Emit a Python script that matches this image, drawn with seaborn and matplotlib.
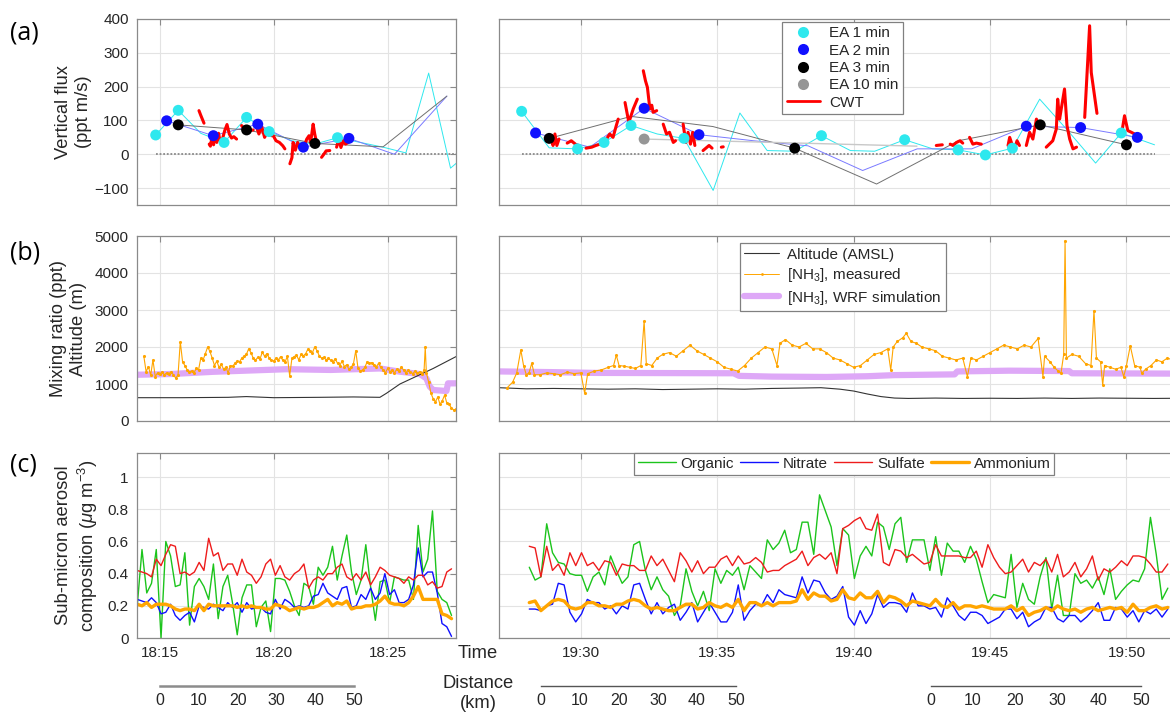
import numpy as np
import matplotlib.pyplot as plt
from matplotlib.lines import Line2D
import seaborn as sns

# times are minutes past 18:00 (left panels) and 19:00 (right panels)

# ---------------- (a) vertical flux ----------------
ea1_line_l = [(14.82, 57), (15.81, 130), (16.8, 62), (17.82, 35), (18.81, 109), (19.8, 67),
              (20.8, 40), (21.8, 30), (22.8, 49), (23.8, 35), (24.8, 21), (25.8, 4),
              (26.8, 240), (27.76, -41), (28.3, -10)]
ea1_pts_l = [(14.82, 57), (15.81, 130), (17.82, 35), (18.81, 109), (19.8, 67), (22.8, 49)]
ea2_line_l = [(15.3, 99), (17.35, 55), (19.3, 89), (21.3, 21), (23.3, 47), (25.3, 0), (27.6, 172)]
ea2_pts_l = [(15.3, 99), (17.35, 55), (19.3, 89), (21.3, 21), (23.3, 47)]
ea3_line_l = [(15.81, 87), (18.81, 72), (21.81, 32), (24.8, 22), (27.6, 172)]
ea3_pts_l = [(15.81, 87), (18.81, 72), (21.81, 32)]
zero_l = [(14.82, 0), (28.3, 0)]
cwt_l = [
    [(16.72, 129), (16.8, 115), (16.94, 92)],
    [(17.17, 30), (17.22, 24), (17.3, 55), (17.36, 28), (17.42, 60), (17.5, 35), (17.58, 62),
     (17.64, 40), (17.75, 45), (17.85, 70), (17.95, 88), (18.05, 60), (18.15, 48), (18.25, 52), (18.37, 45)],
    [(18.59, 85), (18.7, 75), (18.8, 80), (18.95, 70), (19.1, 72)],
    [(19.25, 80), (19.35, 60), (19.47, 82), (19.6, 50), (19.75, 70), (19.9, 55), (19.98, 55),
     (20.1, 40), (20.25, 35), (20.4, 25), (20.49, 16)],
    [(20.71, -28), (20.8, -10), (20.85, 35), (20.95, 12), (21.05, 35), (21.15, 21)],
    [(21.37, 30), (21.45, 45), (21.55, 55), (21.62, 35), (21.73, 89), (21.8, 60), (21.88, 35)],
    [(22.1, -9), (22.2, 0), (22.3, 10), (22.46, 11)],
    [(22.76, 21), (22.85, 45), (22.95, 20), (23.05, 40), (23.15, 30), (23.27, 35)],
]

ea1_line_r = [(27.83, 127), (28.84, 19), (29.88, 16), (30.85, 35), (31.84, 85), (32.8, 60), (33.78, 47),
              (34.85, -107), (35.83, 122), (36.83, 11), (37.84, 9), (38.82, 55), (39.88, 11), (40.77, 9),
              (41.87, 43), (42.9, 16), (43.83, 13), (44.83, -2), (45.82, 18), (46.82, 163), (47.85, 70),
              (48.87, -26), (49.81, 63), (51.03, 28)]
ea1_pts_r = [(27.83, 127), (29.88, 16), (30.85, 35), (31.84, 85), (33.78, 47), (38.82, 55), (41.87, 43),
             (43.83, 13), (44.83, -2), (45.82, 18), (49.81, 63)]
ea2_line_r = [(28.34, 63), (30.33, 21), (32.32, 136), (34.33, 58), (36.33, 40), (38.33, 25), (40.33, -48),
              (42.33, 16), (44.33, 16), (46.33, 83), (48.32, 79), (50.4, 50)]
ea2_pts_r = [(28.34, 63), (32.32, 136), (34.33, 58), (46.33, 83), (48.32, 79), (50.4, 50)]
ea3_line_r = [(28.84, 47), (31.84, 112), (34.84, 82), (37.84, 18), (40.84, -88), (43.84, 40), (46.84, 87), (50.0, 28)]
ea3_pts_r = [(28.84, 47), (37.84, 18), (46.84, 87), (50.0, 28)]
ea10_line_r = [(32.32, 45), (42.32, 24)]
ea10_pts_r = [(32.32, 45)]
zero_r = [(27.83, 0), (51.03, 0)]
cwt_r = [
    [(28.93, 55), (28.98, 26), (29.05, 60), (29.12, 26), (29.2, 45)],
    [(29.5, 33), (29.65, 40), (29.8, 30), (29.97, 21)],
    [(30.19, 18), (30.4, 21), (30.55, 26), (30.7, 30)],
    [(30.94, 45), (31.06, 60), (31.18, 50), (31.3, 85), (31.37, 104)],
    [(31.62, 153), (31.76, 94), (31.92, 134), (32.07, 163)],
    [(32.29, 247), (32.37, 217), (32.44, 198), (32.53, 134), (32.6, 145), (32.65, 124), (32.78, 129)],
    [(33.02, 89), (33.14, 60), (33.25, 65), (33.39, 35), (33.47, 40)],
    [(33.75, 89), (33.85, 35), (33.93, 65), (34.02, 30), (34.1, 65), (34.18, 26)],
    [(34.48, 11), (34.7, 26), (34.81, 18)],
    [(35.15, 21), (35.22, 22)],
    [(43.03, 26), (43.25, 28)],
    [(43.54, 30), (43.64, 26), (43.77, 35), (43.9, 40), (44.0, 33)],
    [(44.25, 50), (44.37, 30), (44.5, 33), (44.68, 30)],
    [(45.66, 26), (45.72, 50), (45.82, 26), (45.9, 16), (45.99, 40), (46.08, 26)],
    [(46.33, 26), (46.45, 65), (46.57, 45), (46.7, 104), (46.82, 80)],
    [(47.06, 21), (47.3, 40), (47.43, 75), (47.48, 163), (47.55, 104), (47.61, 134), (47.73, 193),
     (47.82, 85), (47.92, 45), (48.04, 16), (48.17, 21)],
    [(48.47, 109), (48.65, 380), (48.71, 242), (48.92, 121)],
    [(49.81, 55), (49.93, 114), (50.05, 70), (50.18, 65), (50.3, 60)],
]

# ---------------- (b) NH3 and altitude ----------------
alt_l = [(14.0, 630), (16.0, 630), (18.0, 640), (18.8, 660), (20.0, 630), (22.0, 640), (23.5, 650),
         (24.66, 640), (24.95, 750), (25.54, 1000), (27.0, 1420), (28.0, 1740)]
alt_r = [(27.0, 900), (28, 870), (29, 880), (30, 870), (31, 860), (32, 870), (33, 850), (34, 860), (35, 870),
         (36, 860), (37, 880), (38, 890), (38.8, 900), (39.5, 860), (40.0, 810), (40.5, 730), (41.0, 660),
         (41.5, 620), (42, 610), (43, 620), (44, 610), (45, 615), (46, 610), (47, 620), (48, 610), (49, 620),
         (50, 615), (51, 610), (52, 615)]
wrf_l = [(14.0, 1250), (15.5, 1270), (17.35, 1330), (20.57, 1400), (22.5, 1380), (24.66, 1420), (25.54, 1333),
         (26.41, 1270), (26.7, 1153), (26.85, 928), (27.0, 838), (27.58, 811), (27.65, 1018), (28.0, 1018)]
wrf_r = [(27.0, 1340), (29.0, 1320), (30.5, 1300), (35.6, 1290), (35.8, 1220), (37.0, 1200), (39.0, 1190),
         (40.5, 1210), (41.5, 1240), (43.7, 1260), (43.8, 1340), (45.7, 1360), (47.9, 1350), (48.0, 1290),
         (52.0, 1280)]
nh3_l = [(14.3, 1750), (14.4, 1330), (14.5, 1470), (14.6, 1240), (14.7, 1650), (14.8, 1200), (14.9, 1300),
         (15.0, 1280), (15.1, 1320), (15.2, 1250), (15.3, 1300), (15.4, 1280), (15.5, 1330), (15.6, 1250),
         (15.7, 1160), (15.8, 1240), (15.9, 2140), (16.0, 1600), (16.1, 1500), (16.2, 1380), (16.3, 1330),
         (16.4, 1350), (16.5, 1300), (16.6, 1420), (16.7, 1380), (16.8, 1700), (16.9, 1650), (17.0, 1820),
         (17.1, 2000), (17.2, 1880), (17.3, 1700), (17.4, 1500), (17.5, 1620), (17.6, 1450), (17.7, 1530),
         (17.8, 1400), (17.9, 1450), (18.0, 1300), (18.1, 1500), (18.2, 1480), (18.3, 1560), (18.4, 1620),
         (18.5, 1600), (18.6, 1700), (18.7, 1750), (18.8, 1800), (18.9, 1950), (19.0, 1850), (19.1, 1700),
         (19.2, 1640), (19.3, 1720), (19.4, 1680), (19.5, 1860), (19.6, 1750), (19.7, 1820), (19.8, 1700),
         (19.9, 1640), (20.0, 1620), (20.1, 1700), (20.2, 1650), (20.3, 1740), (20.4, 1640), (20.5, 1600),
         (20.6, 1750), (20.7, 1220), (20.8, 1700), (20.9, 1740), (21.0, 1780), (21.1, 1650), (21.2, 1800),
         (21.3, 1760), (21.4, 1820), (21.5, 1940), (21.6, 1900), (21.7, 1850), (21.8, 2000), (21.9, 1900),
         (22.0, 1760), (22.1, 1700), (22.2, 1720), (22.3, 1650), (22.4, 1700), (22.5, 1640), (22.6, 1600),
         (22.7, 1680), (22.8, 1560), (22.9, 1500), (23.0, 1620), (23.1, 1470), (23.2, 1520), (23.3, 1400),
         (23.4, 1450), (23.5, 1550), (23.6, 1900), (23.7, 1420), (23.8, 1350), (23.9, 1380), (24.0, 1450),
         (24.1, 1600), (24.2, 1560), (24.3, 1580), (24.4, 1520), (24.5, 1460), (24.6, 1560), (24.7, 1450),
         (24.8, 1380), (24.9, 1300), (25.0, 1420), (25.1, 1330), (25.2, 1380), (25.3, 1300), (25.4, 1400),
         (25.5, 1350), (25.6, 1450), (25.7, 1380), (25.8, 1300), (25.9, 1380), (26.0, 1330), (26.1, 1280),
         (26.2, 1350), (26.3, 1290), (26.4, 1330), (26.5, 1260), (26.6, 1380), (26.65, 2000), (26.7, 1300),
         (26.8, 1050), (26.9, 750), (27.0, 600), (27.1, 520), (27.2, 650), (27.3, 450), (27.4, 550),
         (27.5, 700), (27.6, 480), (27.7, 450), (27.8, 350), (27.9, 300), (28.0, 320)]
nh3_r = [(27.3, 900), (27.5, 1050), (27.65, 1300), (27.8, 1920), (27.9, 1500), (28.0, 1250), (28.1, 1300),
         (28.2, 1560), (28.3, 1250), (28.5, 1250), (28.75, 1300), (29.0, 1280), (29.25, 1250), (29.5, 1320),
         (29.75, 1280), (30.0, 1300), (30.14, 750), (30.25, 1280), (30.5, 1350), (30.75, 1380), (31.0, 1450),
         (31.2, 1500), (31.3, 1780), (31.4, 1500), (31.6, 1480), (31.8, 1450), (32.0, 1420), (32.2, 1500),
         (32.32, 2700), (32.4, 1550), (32.6, 1500), (32.8, 1700), (33.0, 1800), (33.25, 1850), (33.5, 1750),
         (33.75, 1900), (34.0, 2050), (34.25, 1900), (34.5, 1800), (34.75, 1700), (35.0, 1600), (35.25, 1450),
         (35.5, 1400), (35.75, 1350), (36.0, 1500), (36.25, 1700), (36.5, 1850), (36.75, 2000), (37.0, 1950),
         (37.19, 1500), (37.3, 2100), (37.5, 2200), (37.75, 2050), (38.0, 2000), (38.25, 2100), (38.5, 1950),
         (38.75, 1950), (39.0, 1850), (39.25, 1700), (39.5, 1650), (39.75, 1550), (40.0, 1450), (40.25, 1500),
         (40.5, 1650), (40.75, 1800), (41.0, 1850), (41.25, 1950), (41.36, 1380), (41.45, 2000), (41.6, 2150),
         (41.8, 2250), (41.93, 2370), (42.1, 2150), (42.3, 2100), (42.5, 2000), (42.75, 1950), (43.0, 1900),
         (43.25, 1750), (43.5, 1700), (43.75, 1650), (44.0, 1700), (44.17, 1200), (44.3, 1700), (44.5, 1650),
         (44.75, 1750), (45.0, 1850), (45.25, 1950), (45.5, 2050), (45.75, 2000), (46.0, 1950), (46.25, 2050),
         (46.5, 2000), (46.76, 2230), (46.94, 1200), (47.0, 1750), (47.2, 1600), (47.35, 1450), (47.5, 1350),
         (47.6, 1290), (47.7, 1800), (47.75, 4870), (47.8, 1700), (48.0, 1800), (48.25, 1750), (48.5, 1550),
         (48.7, 1500), (48.81, 2980), (48.9, 1700), (49.05, 1600), (49.13, 970), (49.2, 1500), (49.4, 1450),
         (49.6, 1400), (49.8, 1450), (49.9, 1200), (50.0, 1500), (50.14, 2030), (50.3, 1500), (50.5, 1450),
         (50.56, 1290), (50.7, 1400), (50.9, 1500), (51.1, 1650), (51.3, 1600), (51.5, 1700), (51.7, 1650)]

# ---------------- (c) AMS composition (regular ~13 s sampling) ----------------
ams_start_l, ams_step_l = 14.01, 0.209
ams_start_r, ams_step_r = 28.11, 0.2128
org_l = [0.20, 0.55, 0.28, 0.34, 0.55, 0.00, 0.60, 0.51, 0.32, 0.33, 0.53, 0.08, 0.32, 0.37, 0.32, 0.24, 0.46,
         0.12, 0.32, 0.39, 0.22, 0.02, 0.25, 0.33, 0.33, 0.07, 0.19, 0.23, 0.04, 0.37, 0.37, 0.36, 0.29, 0.20,
         0.14, 0.34, 0.32, 0.21, 0.44, 0.39, 0.44, 0.57, 0.36, 0.51, 0.64, 0.41, 0.27, 0.36, 0.58, 0.32, 0.11,
         0.35, 0.36, 0.22, 0.38, 0.37, 0.36, 0.36, 0.24, 0.70, 0.41, 0.49, 0.79, 0.29, 0.24, 0.22, 0.14]
nit_l = [0.24, 0.23, 0.22, 0.25, 0.22, 0.15, 0.16, 0.21, 0.14, 0.11, 0.14, 0.16, 0.10, 0.20, 0.19, 0.18, 0.21,
         0.19, 0.17, 0.22, 0.19, 0.22, 0.16, 0.22, 0.18, 0.19, 0.19, 0.16, 0.15, 0.24, 0.18, 0.24, 0.22, 0.19,
         0.20, 0.19, 0.20, 0.26, 0.27, 0.34, 0.28, 0.26, 0.24, 0.31, 0.32, 0.19, 0.20, 0.27, 0.24, 0.31, 0.24,
         0.28, 0.40, 0.27, 0.30, 0.22, 0.22, 0.24, 0.33, 0.56, 0.38, 0.41, 0.41, 0.28, 0.09, 0.07, 0.01]
sul_l = [0.42, 0.41, 0.40, 0.38, 0.49, 0.45, 0.52, 0.58, 0.57, 0.40, 0.41, 0.39, 0.41, 0.47, 0.42, 0.62, 0.51,
         0.53, 0.42, 0.46, 0.46, 0.39, 0.49, 0.41, 0.39, 0.34, 0.38, 0.46, 0.49, 0.39, 0.45, 0.38, 0.36, 0.40,
         0.42, 0.46, 0.31, 0.36, 0.38, 0.36, 0.40, 0.40, 0.44, 0.46, 0.38, 0.36, 0.40, 0.36, 0.41, 0.33, 0.38,
         0.44, 0.42, 0.39, 0.38, 0.37, 0.34, 0.38, 0.36, 0.39, 0.39, 0.33, 0.35, 0.31, 0.32, 0.41, 0.43]
amm_l = [0.21, 0.20, 0.22, 0.19, 0.21, 0.21, 0.21, 0.20, 0.18, 0.17, 0.18, 0.18, 0.17, 0.21, 0.17, 0.21, 0.20,
         0.20, 0.20, 0.20, 0.20, 0.19, 0.20, 0.19, 0.20, 0.19, 0.19, 0.18, 0.18, 0.21, 0.20, 0.19, 0.17, 0.18,
         0.19, 0.18, 0.19, 0.19, 0.20, 0.22, 0.24, 0.20, 0.22, 0.21, 0.23, 0.18, 0.19, 0.19, 0.20, 0.20, 0.21,
         0.23, 0.26, 0.22, 0.21, 0.21, 0.20, 0.22, 0.26, 0.32, 0.24, 0.24, 0.24, 0.24, 0.15, 0.14, 0.12]
org_r = [0.44, 0.36, 0.38, 0.71, 0.53, 0.47, 0.46, 0.40, 0.39, 0.39, 0.29, 0.38, 0.41, 0.33, 0.51, 0.42, 0.34,
         0.38, 0.58, 0.60, 0.42, 0.30, 0.38, 0.30, 0.26, 0.14, 0.20, 0.43, 0.29, 0.20, 0.29, 0.17, 0.43, 0.34,
         0.42, 0.39, 0.44, 0.30, 0.45, 0.41, 0.37, 0.61, 0.55, 0.59, 0.67, 0.53, 0.55, 0.72, 0.72, 0.52, 0.89,
         0.79, 0.69, 0.45, 0.68, 0.64, 0.37, 0.51, 0.57, 0.51, 0.72, 0.69, 0.55, 0.71, 0.75, 0.47, 0.61, 0.61,
         0.61, 0.42, 0.63, 0.39, 0.59, 0.54, 0.54, 0.47, 0.57, 0.49, 0.35, 0.22, 0.27, 0.26, 0.25, 0.52, 0.19,
         0.34, 0.24, 0.21, 0.38, 0.50, 0.18, 0.39, 0.14, 0.14, 0.40, 0.34, 0.36, 0.31, 0.38, 0.27, 0.43, 0.24,
         0.29, 0.33, 0.36, 0.35, 0.43, 0.75, 0.52, 0.24, 0.31]
nit_r = [0.18, 0.18, 0.17, 0.20, 0.21, 0.34, 0.33, 0.16, 0.10, 0.15, 0.24, 0.22, 0.22, 0.18, 0.20, 0.15, 0.20,
         0.18, 0.33, 0.34, 0.24, 0.15, 0.22, 0.15, 0.19, 0.21, 0.11, 0.16, 0.22, 0.10, 0.16, 0.22, 0.16, 0.10,
         0.10, 0.16, 0.33, 0.11, 0.17, 0.21, 0.20, 0.27, 0.22, 0.30, 0.27, 0.26, 0.25, 0.38, 0.28, 0.36, 0.35,
         0.28, 0.24, 0.26, 0.32, 0.13, 0.08, 0.17, 0.09, 0.15, 0.27, 0.19, 0.22, 0.22, 0.21, 0.16, 0.28, 0.20,
         0.20, 0.18, 0.19, 0.13, 0.25, 0.20, 0.14, 0.11, 0.16, 0.16, 0.14, 0.09, 0.11, 0.13, 0.18, 0.18, 0.12,
         0.16, 0.07, 0.10, 0.12, 0.19, 0.19, 0.12, 0.10, 0.14, 0.14, 0.10, 0.13, 0.17, 0.22, 0.11, 0.11, 0.19,
         0.18, 0.13, 0.17, 0.10, 0.17, 0.15, 0.18, 0.13, 0.18]
sul_r = [0.57, 0.56, 0.38, 0.57, 0.42, 0.46, 0.39, 0.53, 0.45, 0.53, 0.45, 0.47, 0.42, 0.48, 0.47, 0.39, 0.46,
         0.45, 0.45, 0.42, 0.42, 0.51, 0.45, 0.49, 0.42, 0.35, 0.53, 0.48, 0.41, 0.48, 0.40, 0.44, 0.44, 0.49,
         0.51, 0.45, 0.51, 0.46, 0.47, 0.50, 0.47, 0.41, 0.42, 0.42, 0.45, 0.47, 0.49, 0.54, 0.45, 0.50, 0.52,
         0.49, 0.53, 0.40, 0.68, 0.70, 0.73, 0.75, 0.68, 0.67, 0.77, 0.47, 0.45, 0.55, 0.54, 0.50, 0.52, 0.49,
         0.46, 0.47, 0.58, 0.51, 0.51, 0.51, 0.51, 0.50, 0.50, 0.54, 0.44, 0.58, 0.50, 0.44, 0.40, 0.41, 0.45,
         0.49, 0.41, 0.47, 0.45, 0.49, 0.41, 0.52, 0.38, 0.41, 0.47, 0.38, 0.43, 0.51, 0.36, 0.43, 0.41, 0.44,
         0.48, 0.45, 0.51, 0.51, 0.50, 0.46, 0.41, 0.41, 0.46]
amm_r = [0.22, 0.23, 0.17, 0.20, 0.23, 0.24, 0.23, 0.19, 0.18, 0.19, 0.22, 0.22, 0.20, 0.20, 0.19, 0.21, 0.21,
         0.23, 0.24, 0.23, 0.20, 0.18, 0.19, 0.18, 0.17, 0.17, 0.19, 0.21, 0.21, 0.18, 0.19, 0.22, 0.20, 0.19,
         0.21, 0.19, 0.24, 0.17, 0.22, 0.22, 0.20, 0.22, 0.20, 0.22, 0.22, 0.22, 0.23, 0.30, 0.24, 0.28, 0.26,
         0.26, 0.23, 0.24, 0.30, 0.25, 0.24, 0.28, 0.25, 0.25, 0.29, 0.22, 0.26, 0.25, 0.23, 0.20, 0.23, 0.22,
         0.21, 0.20, 0.24, 0.20, 0.19, 0.22, 0.18, 0.20, 0.20, 0.19, 0.20, 0.19, 0.18, 0.18, 0.18, 0.20, 0.17,
         0.19, 0.14, 0.16, 0.17, 0.19, 0.17, 0.20, 0.18, 0.17, 0.18, 0.16, 0.18, 0.19, 0.17, 0.18, 0.19, 0.18,
         0.19, 0.16, 0.21, 0.17, 0.17, 0.19, 0.20, 0.18, 0.19]

ticks_l = [15, 20, 25]
ticklabels_l = ['18:15', '18:20', '18:25']
ticks_r = [30, 35, 40, 45, 50]
ticklabels_r = ['19:30', '19:35', '19:40', '19:45', '19:50']
dist_ticks = [0, 10, 20, 30, 40, 50]

# ---------------- figure ----------------
sns.set_theme(style="whitegrid")
plt.rcParams['font.family'] = ['Liberation Sans', 'DejaVu Sans']
plt.rcParams['mathtext.fontset'] = 'custom'
plt.rcParams['mathtext.rm'] = 'Liberation Sans'
plt.rcParams['mathtext.it'] = 'Liberation Sans:italic'

W, H = 1170, 713
fig = plt.figure(figsize=(W / 100, H / 100), dpi=100)

cols = {'l': (137, 319), 'r': (499, 682)}
rows = {'a': (19, 205), 'b': (236, 421), 'c': (453, 638)}
TXT = '#262626'
SPINE = '#8a8a8a'


def make_ax(col, row):
    x0, w = cols[col]
    top, bot = rows[row]
    ax = fig.add_axes([x0 / W, 1 - bot / H, w / W, (bot - top) / H])
    ax.set_facecolor('white')
    for s in ax.spines.values():
        s.set_color(SPINE)
        s.set_linewidth(0.9)
    ax.grid(True, color='#e3e3e3', lw=0.8)
    ax.tick_params(direction='in', length=4, width=0.8, color=SPINE, top=True, right=True,
                   labelsize=11, labelcolor=TXT, pad=6)
    if col == 'l':
        ax.set_xlim(14, 28)
        ax.set_xticks(ticks_l)
        labels = ticklabels_l
    else:
        ax.set_xlim(27, 52)
        ax.set_xticks(ticks_r)
        labels = ticklabels_r
    if row == 'c':
        ax.set_xticklabels(labels)
    else:
        ax.set_xticklabels([])
    return ax


def xy(pairs):
    return [p[0] for p in pairs], [p[1] for p in pairs]


def line(ax, pairs, **kw):
    x, y = xy(pairs)
    sns.lineplot(x=x, y=y, ax=ax, estimator=None, sort=False, legend=False, **kw)


def dots(ax, pairs, color, z=5):
    x, y = xy(pairs)
    sns.scatterplot(x=x, y=y, ax=ax, color=color, s=62, edgecolor='none', legend=False, zorder=z)


CYAN, BLUE, RED = '#2ee8ee', '#1010ff', '#ff0000'

# (a)
for col in ['l', 'r']:
    ax = make_ax(col, 'a')
    ax.set_ylim(-150, 400)
    ax.set_yticks([-100, 0, 100, 200, 300, 400])
    if col == 'l':
        line(ax, zero_l, color='#8a8a8a', lw=1.3, linestyle=(0, (1, 1)))
        line(ax, ea1_line_l, color=CYAN, lw=0.7)
        line(ax, ea2_line_l, color='#7a7aff', lw=0.7)
        line(ax, ea3_line_l, color='#707070', lw=0.7)
        for seg in cwt_l:
            line(ax, seg, color=RED, lw=2.2, zorder=4)
        dots(ax, ea1_pts_l, CYAN)
        dots(ax, ea2_pts_l, BLUE)
        dots(ax, ea3_pts_l, 'black')
        ax.set_ylabel('Vertical flux\n(ppt m/s)', fontsize=13.2, color=TXT)
        ax.yaxis.set_label_coords(-0.141, 0.5)
    else:
        ax.set_yticklabels([])
        line(ax, zero_r, color='#8a8a8a', lw=1.3, linestyle=(0, (1, 1)))
        line(ax, ea1_line_r, color=CYAN, lw=0.7)
        line(ax, ea2_line_r, color='#7a7aff', lw=0.7)
        line(ax, ea3_line_r, color='#707070', lw=0.7)
        line(ax, ea10_line_r, color='#c8c8c8', lw=1.0)
        for seg in cwt_r:
            line(ax, seg, color=RED, lw=2.2, zorder=4)
        dots(ax, ea1_pts_r, CYAN)
        dots(ax, ea2_pts_r, BLUE)
        dots(ax, ea3_pts_r, 'black')
        dots(ax, ea10_pts_r, '#969696')
        handles = [Line2D([], [], ls='none', marker='o', ms=8, mec='none', color=CYAN),
                   Line2D([], [], ls='none', marker='o', ms=8, mec='none', color=BLUE),
                   Line2D([], [], ls='none', marker='o', ms=8, mec='none', color='black'),
                   Line2D([], [], ls='none', marker='o', ms=8, mec='none', color='#969696'),
                   Line2D([], [], color=RED, lw=2)]
        leg = ax.legend(handles, ['EA 1 min', 'EA 2 min', 'EA 3 min', 'EA 10 min', 'CWT'],
                        loc='upper left', bbox_to_anchor=(0.415, 0.985), fontsize=11,
                        frameon=True, fancybox=False, framealpha=1, edgecolor='#808080',
                        borderpad=0.3, labelspacing=0.22, handlelength=2.2, handletextpad=0.6,
                        borderaxespad=0)
        leg.get_frame().set_linewidth(0.9)

# (b)
ORANGE, WRF = '#ffa500', '#dea8f7'
for col in ['l', 'r']:
    ax = make_ax(col, 'b')
    ax.set_ylim(0, 5000)
    ax.set_yticks([0, 1000, 2000, 3000, 4000, 5000])
    wrf, alt, nh3 = (wrf_l, alt_l, nh3_l) if col == 'l' else (wrf_r, alt_r, nh3_r)
    line(ax, wrf, color=WRF, lw=4.5, solid_capstyle='butt')
    line(ax, alt, color='#333333', lw=0.8)
    line(ax, nh3, color=ORANGE, lw=0.8, marker='.', markersize=4.5, markeredgewidth=0)
    if col == 'l':
        ax.set_ylabel('Mixing ratio (ppt)\nAltitude (m)', fontsize=13.2, color=TXT)
        ax.yaxis.set_label_coords(-0.157, 0.5)
    else:
        ax.set_yticklabels([])
        handles = [Line2D([], [], color='#333333', lw=0.8),
                   Line2D([], [], color=ORANGE, lw=0.7, marker='.', ms=4, mew=0),
                   Line2D([], [], color=WRF, lw=4.5)]
        leg = ax.legend(handles, ['Altitude (AMSL)', '[NH$_3$], measured', '[NH$_3$], WRF simulation'],
                        loc='upper left', bbox_to_anchor=(0.353, 0.962), fontsize=11,
                        frameon=True, fancybox=False, framealpha=1, edgecolor='#808080',
                        borderpad=0.3, labelspacing=0.3, handlelength=2.3, handletextpad=0.5,
                        borderaxespad=0)
        leg.get_frame().set_linewidth(0.9)

# (c)
GREEN, NBLUE, SRED = '#1cc41c', '#1010ff', '#ee1c1c'
for col in ['l', 'r']:
    ax = make_ax(col, 'c')
    ax.set_ylim(0, 1.15)
    ax.set_yticks([0, 0.2, 0.4, 0.6, 0.8, 1.0])
    if col == 'l':
        start, step, series = ams_start_l, ams_step_l, (org_l, nit_l, sul_l, amm_l)
    else:
        start, step, series = ams_start_r, ams_step_r, (org_r, nit_r, sul_r, amm_r)
    for vals, c, lw in zip(series, (GREEN, NBLUE, SRED, ORANGE), (1.0, 1.0, 1.0, 2.4)):
        t = start + step * np.arange(len(vals))
        sns.lineplot(x=t, y=vals, ax=ax, color=c, lw=lw, estimator=None, legend=False)
    if col == 'l':
        ax.set_yticklabels(['0', '0.2', '0.4', '0.6', '0.8', '1'])
        ax.set_ylabel('Sub-micron aerosol\ncomposition ($\\mu$g m$^{-3}$)', fontsize=13.2, color=TXT)
        ax.yaxis.set_label_coords(-0.116, 0.5)
    else:
        ax.set_yticklabels([])
        handles = [Line2D([], [], color=c, lw=lw) for c, lw in
                   zip((GREEN, NBLUE, SRED, ORANGE), (1.0, 1.0, 1.0, 2.4))]
        leg = ax.legend(handles, ['Organic', 'Nitrate', 'Sulfate', 'Ammonium'],
                        loc='upper left', bbox_to_anchor=(0.198, 1.0), ncol=4, fontsize=11,
                        frameon=True, fancybox=False, framealpha=1, edgecolor='#808080',
                        borderpad=0.25, handlelength=2.5, handletextpad=0.3, columnspacing=0.4,
                        borderaxespad=0)
        leg.get_frame().set_linewidth(0.9)

# distance scale bars
for x0, x1, c, lw in [(160, 354, '#8c8c8c', 1.8), (541, 736, '#555555', 1.0), (931, 1141, '#555555', 1.0)]:
    axd = fig.add_axes([x0 / W, 1 - 686 / H, (x1 - x0) / W, 0.0001])
    axd.set_xlim(0, 50)
    axd.set_xticks(dist_ticks)
    axd.set_yticks([])
    axd.grid(False)
    axd.patch.set_alpha(0)
    for s in ['top', 'left', 'right']:
        axd.spines[s].set_visible(False)
    axd.spines['bottom'].set_color(c)
    axd.spines['bottom'].set_linewidth(lw)
    axd.tick_params(axis='x', direction='in', length=5, width=0.8, color=c,
                    labelsize=11.5, labelcolor=TXT, pad=5)

# labels
for lab, yc in [('(a)', 33), ('(b)', 253), ('(c)', 465)]:
    fig.text(10 / W, 1 - yc / H, lab, fontsize=18, va='center', ha='left', color='black',
             family=['Open Sans', 'DejaVu Sans'])
fig.text(478 / W, 1 - 653 / H, 'Time', fontsize=13.2, ha='center', va='center', color=TXT)
fig.text(478 / W, 1 - 684 / H, 'Distance', fontsize=13.2, ha='center', va='center', color=TXT)
fig.text(478 / W, 1 - 703 / H, '(km)', fontsize=13.2, ha='center', va='center', color=TXT)

fig.savefig('out.png', dpi=100)
